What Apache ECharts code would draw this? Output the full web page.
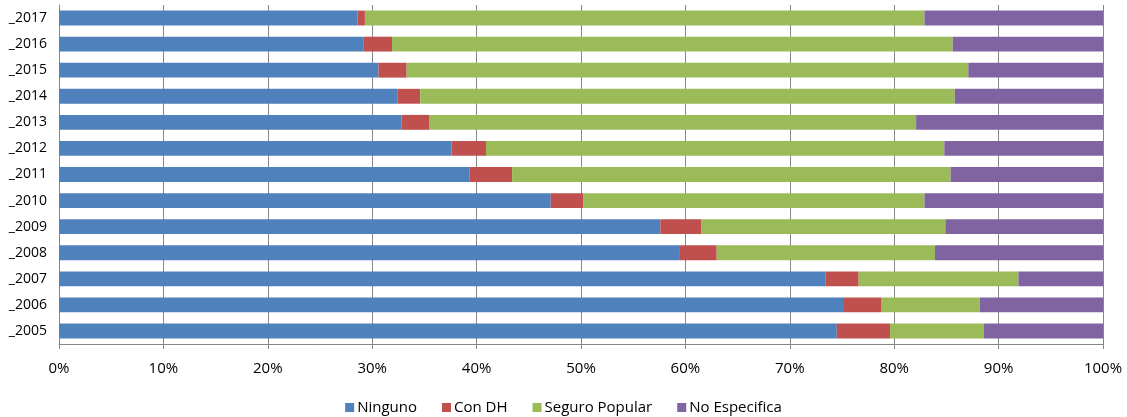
<!DOCTYPE html>
<html>
<head>
<meta charset="utf-8">
<script src="https://cdn.jsdelivr.net/npm/echarts@6/dist/echarts.min.js"></script>
<style>
  html, body { margin: 0; padding: 0; background: #fff; }
  #chart { width: 1127px; height: 417px; }
</style>
</head>
<body>
<div id="chart"></div>
<script>
// years, bottom to top
const years = ['_2005', '_2006', '_2007', '_2008', '_2009', '_2010', '_2011',
  '_2012', '_2013', '_2014', '_2015', '_2016', '_2017']

// shares in percent, same order as years
const ninguno = [74.5, 75.1, 73.4, 59.4, 57.6, 47.1, 39.3, 37.6, 32.8, 32.4, 30.6, 29.2, 28.6]
const conDH = [5.1, 3.7, 3.2, 3.6, 3.9, 3.1, 4.1, 3.3, 2.7, 2.2, 2.7, 2.7, 0.7]
const seguroPopular = [9.0, 9.4, 15.3, 20.9, 23.4, 32.7, 42.0, 43.9, 46.6, 51.2, 53.8, 53.7, 53.6]
const noEspecifica = [11.4, 11.8, 8.1, 16.1, 15.1, 17.1, 14.6, 15.2, 17.9, 14.2, 12.9, 14.4, 17.1]

const font = '"Open Sans", sans-serif'

const chart = echarts.init(document.getElementById('chart'))

const makeSeries = (name, data, color) => ({
  name: name,
  type: 'bar',
  stack: 'total',
  data: data,
  barCategoryGap: '43%',
  itemStyle: { color: color },
  emphasis: { disabled: true }
})

chart.setOption({
  animation: false,
  textStyle: { fontFamily: font },
  grid: { left: 59, right: 24, top: 5, bottom: 73, containLabel: false },
  legend: {
    bottom: -3,
    left: 'center',
    itemWidth: 9,
    itemHeight: 9,
    itemGap: 25,
    icon: 'rect',
    textStyle: { fontFamily: font, fontSize: 15, color: '#000', padding: [0, 0, 0, -2] },
    data: ['Ninguno', 'Con DH', 'Seguro Popular', 'No Especifica']
  },
  xAxis: {
    type: 'value',
    min: 0,
    max: 100,
    interval: 10,
    axisLine: { show: true, lineStyle: { color: '#868686' } },
    axisTick: { show: true, length: 5, lineStyle: { color: '#868686' } },
    splitLine: { show: true, lineStyle: { color: '#868686', width: 1 } },
    axisLabel: {
      formatter: '{value}%',
      fontFamily: font,
      fontSize: 15,
      color: '#000',
      margin: 17
    }
  },
  yAxis: {
    type: 'category',
    data: years,
    axisLine: { show: true, lineStyle: { color: '#868686' } },
    axisTick: { show: false },
    axisLabel: { fontFamily: font, fontSize: 14, color: '#000', margin: 12 }
  },
  series: [
    makeSeries('Ninguno', ninguno, '#4F81BD'),
    makeSeries('Con DH', conDH, '#C0504D'),
    makeSeries('Seguro Popular', seguroPopular, '#9BBB59'),
    makeSeries('No Especifica', noEspecifica, '#8064A2')
  ]
})
</script>
</body>
</html>
